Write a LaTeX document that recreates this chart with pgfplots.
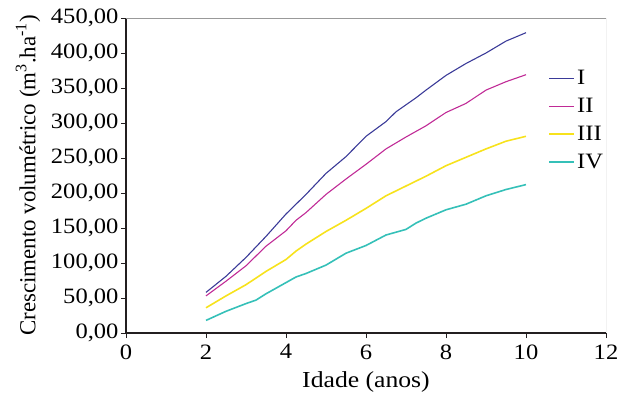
\documentclass[border=0pt]{standalone}
\usepackage{fontspec}
\setmainfont{Liberation Serif}
\newfontfamily\tickfont{Liberation Serif}[FakeStretch=1.12]
\usepackage{pgfplots}
\pgfplotsset{compat=1.18}
\definecolor{cI}{HTML}{3A3A98}
\definecolor{cII}{HTML}{C02A96}
\definecolor{cIII}{HTML}{F7E21C}
\definecolor{cIV}{HTML}{35C0B8}
\definecolor{axc}{HTML}{231F20}
\begin{document}
\begin{tikzpicture}
\useasboundingbox (-126bp,-61bp) rectangle (491bp,333bp);
\begin{axis}[
  at={(0,0)}, anchor=south west,
  scale only axis, width=480bp, height=315bp,
  xmin=0, xmax=12, ymin=0, ymax=450,
  xtick={0,2,...,12}, ytick={0,50,...,450},
  axis x line*=bottom, axis y line*=left,
  axis line style={axc, line width=1.1pt, -},
  tick style={axc, line width=0.8pt},
  tick align=outside, major tick length=5bp,
  /pgf/number format/assume math mode=true,
  ticklabel style={font=\tickfont\fontsize{22}{26}\selectfont},
  yticklabel style={xshift=1bp, /pgf/number format/.cd, fixed, fixed zerofill, precision=2, use comma, 1000 sep={}},
  xticklabel style={yshift=-3bp, /pgf/number format/.cd, fixed, precision=0},
  label style={font=\fontsize{23}{27}\selectfont},
  xlabel style={font=\tickfont\fontsize{23}{27}\selectfont, yshift=-5bp},
  ylabel shift=4bp,
  xlabel={Idade (anos)},
  ylabel={Crescimento volumétrico (m\textsuperscript{3}.ha\textsuperscript{-1})},
  legend style={draw=none, fill=none, at={(rel axis cs:0.88,0.84)}, anchor=north west,
    font=\tickfont\fontsize{22}{26}\selectfont, row sep=8bp, inner sep=0pt,
    /tikz/every even column/.append style={column sep=0pt}},
  legend cell align=left,
  legend image code/.code={\draw[#1] (0bp,0bp) -- (25bp,0bp);},
]
\addplot[cI, line width=1.1pt] coordinates {(2,58) (2.5,81) (3,108) (3.5,138) (4,170) (4.5,198) (5,228) (5.5,252) (6,281) (6.5,302) (6.75,316) (7,326) (7.25,336) (7.5,347) (8,368) (8.5,385) (9,400) (9.5,417) (10,429)};
\addlegendentry{I}
\addplot[cII, line width=1.1pt] coordinates {(2,53) (2.5,74) (3,96) (3.5,124) (4,146) (4.25,161) (4.5,172) (5,198) (5.5,220) (6,241) (6.5,263) (7,280) (7.5,296) (8,315) (8.5,328) (9,347) (9.5,359) (10,369)};
\addlegendentry{II}
\addplot[cIII, line width=1.6pt] coordinates {(2,36) (2.5,53) (3,69) (3.5,88) (4,105) (4.25,117) (4.5,127) (5,145) (5.5,161) (6,178) (6.5,196) (7,210) (7.5,224) (8,239) (8.5,251) (9,263) (9.5,274) (10,281)};
\addlegendentry{III}
\addplot[cIV, line width=1.6pt] coordinates {(2,18) (2.5,31) (3,42) (3.25,47) (3.5,56) (4,72) (4.25,80) (4.5,85) (5,97) (5.5,114) (6,125) (6.5,140) (7,148) (7.25,157) (7.5,164) (8,176) (8.5,184) (9,196) (9.5,205) (10,212)};
\addlegendentry{IV}
\draw[gray!80, line width=1pt] (rel axis cs:0,1) -- (rel axis cs:1,1) -- (rel axis cs:1,0);
\end{axis}
\end{tikzpicture}
\end{document}
